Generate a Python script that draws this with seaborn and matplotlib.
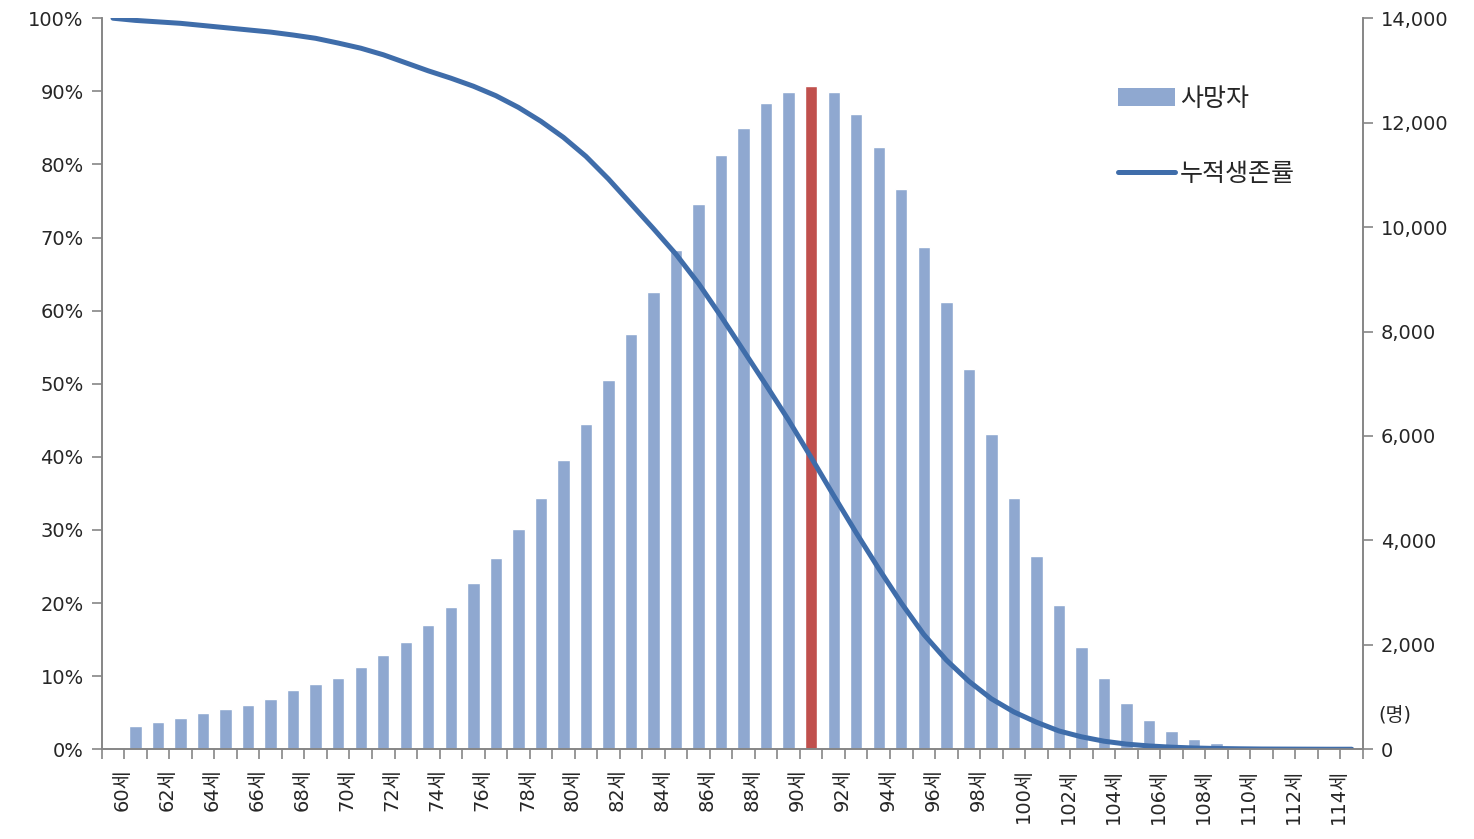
import numpy as np
import pandas as pd
import matplotlib
matplotlib.use("Agg")
import matplotlib.pyplot as plt
import matplotlib.transforms as mtransforms
from matplotlib.patches import Patch
from matplotlib.lines import Line2D
from matplotlib.ticker import PercentFormatter, FuncFormatter, FixedLocator
import seaborn as sns

# ages 60..115
ages = list(range(60, 116))
age_labels = [f"{a}세" for a in ages]

# deaths (명)
deaths = [0, 446, 529, 605, 690, 766, 849, 970, 1130, 1251,
          1372, 1571, 1812, 2050, 2375, 2732, 3180, 3659, 4220, 4820,
          5542, 6232, 7075, 7956, 8761, 9565, 10446, 11372, 11897, 12375,
          12579, 12693, 12579, 12170, 11533, 10728, 9609, 8556, 7280, 6034,
          4820, 3703, 2770, 1966, 1372, 881, 561, 356, 203, 126,
          60, 25, 10, 5, 2, 1]

# cumulative survival rate (%)
survival = [100.0, 99.7, 99.5, 99.3, 99.0, 98.7, 98.4, 98.1, 97.7, 97.25,
            96.6, 95.9, 95.0, 93.9, 92.8, 91.8, 90.7, 89.4, 87.8, 85.9,
            83.7, 81.1, 78.0, 74.6, 71.2, 67.7, 63.7, 59.2, 54.5, 49.8,
            45.0, 39.9, 34.7, 29.6, 24.7, 20.0, 15.7, 12.2, 9.3, 6.9,
            5.1, 3.7, 2.5, 1.7, 1.1, 0.7, 0.45, 0.28, 0.17, 0.1,
            0.06, 0.03, 0.02, 0.01, 0.0, 0.0]

highlight_age = 91

bar_blue = "#8FA8D0"
bar_red = "#C0504D"
line_blue = "#3F6DAA"
axis_gray = "#868686"

sns.set_style("white")
plt.rcParams['font.family'] = ['DejaVu Sans', 'Noto Sans CJK KR']

df = pd.DataFrame({'age': age_labels, 'deaths': deaths,
                   'survival': np.array(survival) / 100})
colors = [bar_red if a == highlight_age else bar_blue for a in ages]

fig = plt.figure(figsize=(14.74, 8.39), dpi=100)
ax_bar = fig.add_axes([0.069, 0.107, 0.8557, 0.8713])

sns.barplot(data=df, x='age', y='deaths', hue='age', palette=colors,
            legend=False, width=0.55, saturation=1, ax=ax_bar)

ax_line = ax_bar.twinx()
sns.lineplot(x=np.arange(len(ages)), y=df['survival'], ax=ax_line,
             color=line_blue, linewidth=3.6, solid_joinstyle='round',
             solid_capstyle='round')

# bars on the right axis, line on the left axis
ax_bar.yaxis.set_ticks_position('right')
ax_line.yaxis.set_ticks_position('left')
ax_line.yaxis.set_label_position('left')

ax_bar.set_ylim(0, 14000)
ax_bar.set_yticks(range(0, 14001, 2000))
ax_bar.yaxis.set_major_formatter(FuncFormatter(lambda v, p: f"{int(v):,}"))
ax_line.set_ylim(0, 1)
ax_line.set_yticks(np.arange(0, 1.01, 0.1))
ax_line.yaxis.set_major_formatter(PercentFormatter(1.0, decimals=0))

ax_bar.set_xlim(-0.5, len(ages) - 0.5)
ax_bar.set_xticks(range(0, len(ages), 2))
ax_bar.set_xticklabels(age_labels[::2], rotation=90)
ax_bar.xaxis.set_minor_locator(FixedLocator(np.arange(-0.5, len(ages), 1)))
ax_bar.tick_params(axis='x', which='major', length=0, pad=14, labelsize=14)
ax_bar.tick_params(axis='x', which='minor', length=7, width=1.2,
                   color=axis_gray, direction='out', bottom=True)
ax_bar.tick_params(axis='y', length=7, width=1.2, color=axis_gray,
                   direction='out', labelsize=14, pad=6)
ax_line.tick_params(axis='y', length=7, width=1.2, color=axis_gray,
                    direction='out', labelsize=14, pad=6)
offset = mtransforms.ScaledTranslation(0.09, 0, fig.dpi_scale_trans)
for lab in ax_bar.get_xticklabels():
    lab.set_transform(lab.get_transform() + offset)

for a in (ax_bar, ax_line):
    a.set_xlabel('')
    a.set_ylabel('')
    a.spines['top'].set_visible(False)
    for s in ('left', 'right', 'bottom'):
        a.spines[s].set_color(axis_gray)
        a.spines[s].set_linewidth(1.2)

fig.text(1395 / 1474, 1 - 715 / 839, '(명)', ha='center', va='center',
         fontsize=14)

handles = [Patch(facecolor=bar_blue, edgecolor='none'),
           Line2D([], [], color=line_blue, linewidth=3.6)]
fig.legend(handles, ['사망자', '누적생존률'], loc='upper left',
           bbox_to_anchor=(1095 / 1474, 1 - 64 / 839), frameon=False,
           fontsize=18, handlelength=2.3, handleheight=0.7,
           handletextpad=0.2, labelspacing=2.05)

fig.savefig("out.png", dpi=100)
